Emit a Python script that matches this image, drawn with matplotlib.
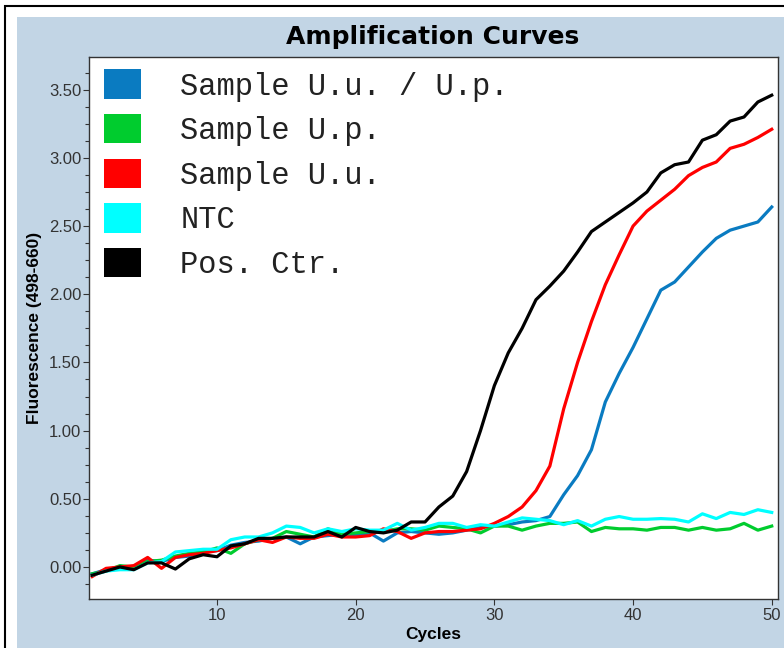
import matplotlib
matplotlib.use("Agg")
import matplotlib.pyplot as plt
from matplotlib.patches import Rectangle, Patch
from matplotlib.ticker import MultipleLocator, FormatStrFormatter
from matplotlib.font_manager import FontProperties

# ---------------- data ----------------
cycles = list(range(1, 51))

series_names = ["Sample U.u. / U.p.", "Sample U.p.", "Sample U.u.", "NTC", "Pos. Ctr."]
series_colors = ["#0A7BC1", "#00CC2E", "#FF0000", "#00FFFF", "#000000"]

uu_up = [-0.05, -0.02, 0.00, -0.01, 0.05, 0.04, 0.07, 0.08, 0.11, 0.12,
         0.16, 0.18, 0.19, 0.21, 0.22, 0.17, 0.22, 0.23, 0.24, 0.23,
         0.25, 0.19, 0.25, 0.26, 0.25, 0.24, 0.25, 0.27, 0.29, 0.30,
         0.31, 0.33, 0.34, 0.37, 0.53, 0.67, 0.86, 1.21, 1.42, 1.61,
         1.82, 2.03, 2.09, 2.20, 2.31, 2.41, 2.47, 2.50, 2.53, 2.64]

up = [-0.05, -0.03, 0.01, 0.00, 0.04, 0.05, 0.08, 0.10, 0.11, 0.14,
      0.10, 0.17, 0.20, 0.21, 0.26, 0.24, 0.22, 0.28, 0.24, 0.25,
      0.26, 0.26, 0.28, 0.28, 0.27, 0.30, 0.29, 0.28, 0.25, 0.30,
      0.30, 0.27, 0.30, 0.32, 0.32, 0.33, 0.26, 0.29, 0.28, 0.28,
      0.27, 0.29, 0.29, 0.27, 0.29, 0.27, 0.28, 0.32, 0.27, 0.30]

uu = [-0.07, -0.01, 0.00, 0.01, 0.07, -0.01, 0.07, 0.09, 0.10, 0.12,
      0.14, 0.17, 0.20, 0.18, 0.22, 0.21, 0.21, 0.24, 0.22, 0.22,
      0.23, 0.28, 0.26, 0.21, 0.25, 0.26, 0.26, 0.27, 0.28, 0.32,
      0.37, 0.44, 0.56, 0.74, 1.16, 1.50, 1.80, 2.07, 2.29, 2.50,
      2.61, 2.69, 2.77, 2.87, 2.93, 2.97, 3.07, 3.10, 3.15, 3.21]

ntc = [-0.06, -0.03, -0.02, -0.02, 0.03, 0.04, 0.11, 0.12, 0.13, 0.13,
       0.20, 0.22, 0.22, 0.25, 0.30, 0.29, 0.25, 0.28, 0.26, 0.28,
       0.27, 0.27, 0.32, 0.27, 0.29, 0.32, 0.32, 0.29, 0.31, 0.30,
       0.33, 0.36, 0.35, 0.34, 0.31, 0.34, 0.30, 0.35, 0.37, 0.35,
       0.35, 0.355, 0.35, 0.33, 0.39, 0.355, 0.40, 0.385, 0.42, 0.40]

pos_ctr = [-0.06, -0.03, 0.00, -0.02, 0.03, 0.03, -0.015, 0.06, 0.09, 0.075,
           0.155, 0.17, 0.21, 0.21, 0.22, 0.22, 0.22, 0.26, 0.22, 0.29,
           0.26, 0.25, 0.27, 0.33, 0.33, 0.44, 0.52, 0.70, 1.00, 1.33,
           1.57, 1.75, 1.96, 2.06, 2.17, 2.31, 2.46, 2.53, 2.60, 2.67,
           2.75, 2.89, 2.95, 2.97, 3.13, 3.17, 3.27, 3.30, 3.41, 3.46]

series_values = [uu_up, up, uu, ntc, pos_ctr]

x_ticks = [10, 20, 30, 40, 50]
y_ticks = [0.0, 0.5, 1.0, 1.5, 2.0, 2.5, 3.0, 3.5]

title_text = "Amplification Curves"
x_label = "Cycles"
y_label = "Fluorescence (498-660)"

# ---------------- figure ----------------
W, H = 784, 648
fig = plt.figure(figsize=(W / 100, H / 100), dpi=100)
fig.patch.set_facecolor("white")


def px_rect(x0, y0, x1, y1, **kw):
    return Rectangle((x0 / W, 1 - y1 / H), (x1 - x0) / W, (y1 - y0) / H,
                     transform=fig.transFigure, **kw)


fig.patches.append(px_rect(17, 17, W + 20, H + 20, facecolor="#C2D5E5",
                           edgecolor="none", zorder=-10))
fig.patches.append(px_rect(5, 6, W + 20, H + 20, facecolor="none",
                           edgecolor="black", linewidth=1.5, zorder=-9))

ax_l, ax_r, ax_t, ax_b = 89, 777.7, 57, 599.3
ax = fig.add_axes([ax_l / W, 1 - ax_b / H, (ax_r - ax_l) / W, (ax_b - ax_t) / H])
ax.set_facecolor("white")

for vals, col in zip(series_values, series_colors):
    ax.plot(cycles, vals, color=col, linewidth=2.3, solid_joinstyle="round")

ax.set_xlim(0.77, 50.43)
ax.set_ylim(-0.237, 3.74)
ax.set_xticks(x_ticks)
ax.set_yticks(y_ticks)
ax.yaxis.set_major_formatter(FormatStrFormatter("%.2f"))
ax.yaxis.set_minor_locator(MultipleLocator(0.125))

tick_col = "#333333"
for sp in ax.spines.values():
    sp.set_color("#333333")
    sp.set_linewidth(1.0)
ax.tick_params(axis="both", which="major", direction="out", length=4, width=0.8,
               color=tick_col, labelcolor=tick_col, labelsize=12)
ax.tick_params(axis="y", which="minor", direction="out", length=3, width=0.8,
               color=tick_col)
ax.tick_params(axis="y", which="major", pad=1.5)
ax.tick_params(axis="x", which="major", pad=2.5)
for lab in ax.get_xticklabels() + ax.get_yticklabels():
    lab.set_fontfamily("Liberation Sans")

ax.set_xlabel(x_label, fontsize=12.5, fontweight="bold", family="Liberation Sans")
ax.set_ylabel(y_label, fontsize=12.5, fontweight="bold", family="Liberation Sans")
ax.xaxis.set_label_coords(0.5, -0.052)
ax.yaxis.set_label_coords(-0.068, 0.5)

fig.text(433 / W, 1 - 37 / H, title_text, ha="center", va="center",
         fontsize=18, fontweight="bold", family="DejaVu Sans")

handles = [Patch(facecolor=c, edgecolor="none") for c in series_colors]
leg = ax.legend(handles, series_names, loc="upper left",
                bbox_to_anchor=(0.0218, 0.977), frameon=False,
                prop=FontProperties(family="Liberation Mono", size=22),
                handlelength=1.2, handleheight=1.1, handletextpad=1.3,
                labelspacing=0.41, borderpad=0, borderaxespad=0)
for t in leg.get_texts():
    t.set_color("#222222")

fig.savefig("out.png", dpi=100)
